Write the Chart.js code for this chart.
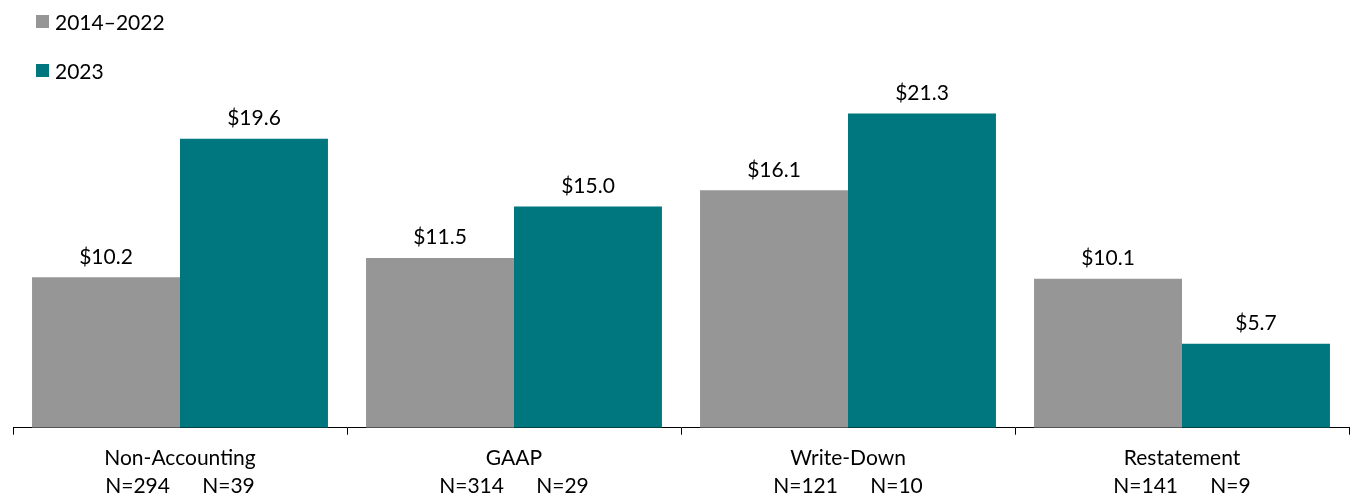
<!DOCTYPE html>
<html>
<head>
<meta charset="utf-8">
<script src="https://cdn.jsdelivr.net/npm/chart.js@4.4.1/dist/chart.umd.min.js"></script>
<style>
  html, body { margin: 0; padding: 0; background: #fff; overflow: hidden; }
  #wrap { position: relative; width: 1354px; height: 501px; overflow: hidden; }
  #legend { position: absolute; left: 36px; top: 6px; font-family: Lato, sans-serif; font-size: 21px; color: #000; }
  #legend div { display: flex; align-items: center; height: 30px; margin-bottom: 19px; }
  #legend span.box { display: inline-block; width: 13px; height: 13px; margin-right: 6px; }
</style>
</head>
<body>
<div id="wrap">
  <canvas id="chart" width="1354" height="509"></canvas>
  <div id="legend"></div>
</div>
<script>
let categories = ['Non-Accounting', 'GAAP', 'Write-Down', 'Restatement'];
let seriesNames = ['2014\u20132022', '2023'];
let earlier = [10.2, 11.5, 16.1, 10.1];
let latest = [19.6, 15.0, 21.3, 5.7];
let countEarlier = [294, 314, 121, 141];
let countLatest = [39, 29, 10, 9];
let colors = ['#969696', '#00777E'];

let labels = categories.map((c, i) => [c, 'N=' + countEarlier[i] + '      N=' + countLatest[i]]);

// legend, stacked vertically in the top-left corner
let legend = document.getElementById('legend');
seriesNames.forEach((name, i) => {
    let row = document.createElement('div');
    row.innerHTML = '<span class="box" style="background:' + colors[i] + '"></span>' + name;
    legend.appendChild(row);
});

// dollar value written above every bar
const valueLabels = {
    id: 'valueLabels',
    afterDatasetsDraw(chart) {
        let c = chart.ctx;
        c.save();
        c.font = '21px Lato, sans-serif';
        c.fillStyle = '#000';
        c.textAlign = 'center';
        c.textBaseline = 'bottom';
        chart.data.datasets.forEach((ds, i) => {
            chart.getDatasetMeta(i).data.forEach((bar, j) => {
                c.fillText('$' + ds.data[j].toFixed(1), bar.x, bar.y - 10);
            });
        });
        c.restore();
    }
};

new Chart(document.getElementById('chart'), {
    type: 'bar',
    data: {
        labels: labels,
        datasets: [{
            label: seriesNames[0],
            data: earlier,
            backgroundColor: colors[0]
        }, {
            label: seriesNames[1],
            data: latest,
            backgroundColor: colors[1]
        }]
    },
    options: {
        responsive: false,
        animation: false,
        layout: { padding: { left: 13, right: 5, top: 59, bottom: 0 } },
        datasets: {
            bar: { barPercentage: 1, categoryPercentage: 0.886 }
        },
        plugins: {
            legend: { display: false },
            tooltip: { enabled: false }
        },
        scales: {
            y: {
                display: false,
                min: 0,
                max: 25
            },
            x: {
                border: { color: '#000', width: 1 },
                grid: {
                    offset: true,
                    drawOnChartArea: false,
                    drawTicks: true,
                    tickLength: 7,
                    color: '#000'
                },
                ticks: {
                    color: '#000',
                    padding: 9,
                    maxRotation: 0,
                    font: { family: 'Lato, sans-serif', size: 21, lineHeight: 1.34 }
                }
            }
        }
    },
    plugins: [valueLabels]
});
</script>
</body>
</html>
